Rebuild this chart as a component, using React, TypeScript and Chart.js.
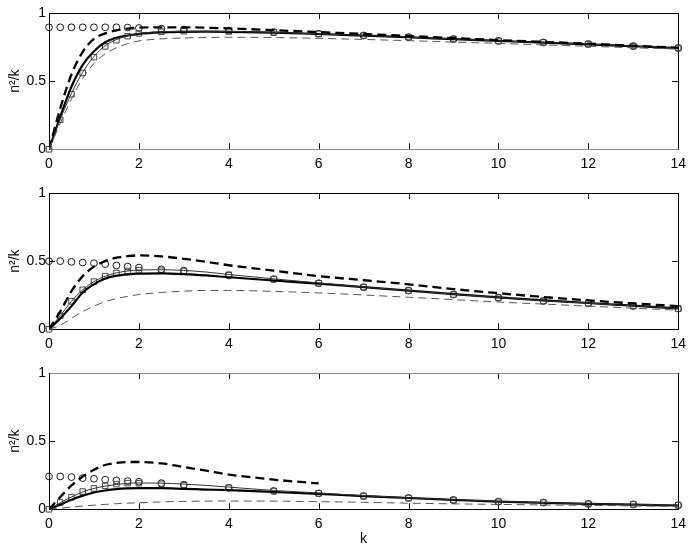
import React, { useEffect, useRef } from "react";
import { Chart, registerables } from "chart.js";
Chart.register(...registerables);

// marker abscissae and curve abscissae
const K_MARK = [0, 0.25, 0.5, 0.75, 1, 1.25, 1.5, 1.75, 2, 2.5, 3, 4, 5, 6, 7, 8, 9, 10, 11, 12, 13, 14];
const K_LINE = [0, 0.25, 0.5, 0.75, 1, 1.25, 1.5, 1.75, 2, 2.5, 3, 3.5, 4, 5, 6, 7, 8, 9, 10, 11, 12, 13, 14];
const K_DASH3 = [0, 0.25, 0.5, 0.75, 1, 1.25, 1.5, 1.75, 2, 2.5, 3, 3.5, 4, 4.5, 5, 5.5, 6];

const X_TICKS = [0, 2, 4, 6, 8, 10, 12, 14];
const Y_TICKS = [0, 0.5, 1];
const Y_TITLE = "n²/k";
const X_TITLE = "k";

// panel 1
const circles1 = [0.895, 0.895, 0.895, 0.895, 0.895, 0.895, 0.895, 0.893, 0.89, 0.885, 0.878, 0.87, 0.86, 0.848, 0.835, 0.823, 0.809, 0.795, 0.784, 0.772, 0.757, 0.743];
const squares1 = [0, 0.216, 0.404, 0.56, 0.676, 0.755, 0.8, 0.83, 0.85, 0.862, 0.866, 0.865, 0.858, 0.847, 0.835, 0.823, 0.809, 0.795, 0.784, 0.772, 0.757, 0.743];
const thickSolid1 = [0, 0.24, 0.46, 0.62, 0.72, 0.785, 0.818, 0.835, 0.847, 0.858, 0.862, 0.863, 0.862, 0.856, 0.846, 0.834, 0.822, 0.808, 0.795, 0.783, 0.77, 0.756, 0.742];
const thinSolid1 = [0, 0.22, 0.41, 0.565, 0.68, 0.76, 0.805, 0.833, 0.85, 0.862, 0.866, 0.866, 0.865, 0.858, 0.847, 0.835, 0.823, 0.809, 0.795, 0.784, 0.772, 0.757, 0.743];
const thickDash1 = [0, 0.3, 0.55, 0.715, 0.81, 0.85, 0.872, 0.885, 0.892, 0.895, 0.895, 0.892, 0.887, 0.874, 0.86, 0.846, 0.831, 0.816, 0.801, 0.788, 0.775, 0.76, 0.745];
const thinDash1 = [0, 0.19, 0.37, 0.52, 0.63, 0.7, 0.745, 0.775, 0.795, 0.81, 0.817, 0.82, 0.822, 0.82, 0.814, 0.806, 0.797, 0.787, 0.777, 0.766, 0.756, 0.745, 0.735];

// panel 2
const circles2 = [0.5, 0.5, 0.495, 0.49, 0.485, 0.478, 0.468, 0.46, 0.453, 0.44, 0.43, 0.395, 0.368, 0.338, 0.309, 0.284, 0.255, 0.232, 0.208, 0.191, 0.171, 0.151];
const squares2 = [0, 0.1, 0.206, 0.29, 0.35, 0.39, 0.413, 0.428, 0.433, 0.43, 0.428, 0.4, 0.368, 0.338, 0.309, 0.284, 0.255, 0.232, 0.208, 0.191, 0.171, 0.151];
const thickSolid2 = [0, 0.08, 0.17, 0.27, 0.33, 0.373, 0.393, 0.403, 0.408, 0.41, 0.405, 0.395, 0.382, 0.358, 0.335, 0.309, 0.284, 0.258, 0.234, 0.212, 0.193, 0.173, 0.153];
const thinSolid2 = [0, 0.1, 0.205, 0.29, 0.35, 0.39, 0.414, 0.428, 0.435, 0.437, 0.432, 0.42, 0.402, 0.37, 0.34, 0.31, 0.285, 0.257, 0.233, 0.21, 0.192, 0.172, 0.152];
const thickDash2 = [0, 0.13, 0.28, 0.39, 0.46, 0.5, 0.525, 0.537, 0.542, 0.535, 0.517, 0.495, 0.47, 0.43, 0.39, 0.36, 0.33, 0.295, 0.265, 0.237, 0.212, 0.19, 0.17];
const thinDash2 = [0, 0.03, 0.08, 0.13, 0.17, 0.203, 0.225, 0.242, 0.255, 0.27, 0.28, 0.285, 0.285, 0.278, 0.267, 0.252, 0.235, 0.218, 0.2, 0.185, 0.17, 0.155, 0.14];

// panel 3
const circles3 = [0.241, 0.241, 0.236, 0.229, 0.224, 0.217, 0.212, 0.207, 0.202, 0.192, 0.18, 0.158, 0.134, 0.117, 0.097, 0.083, 0.068, 0.056, 0.049, 0.04, 0.036, 0.03];
const squares3 = [0, 0.05, 0.089, 0.13, 0.153, 0.172, 0.185, 0.192, 0.192, 0.187, 0.177, 0.158, 0.134, 0.117, 0.097, 0.083, 0.068, 0.056, 0.049, 0.04, 0.036, 0.03];
const thickSolid3 = [0, 0.035, 0.07, 0.1, 0.123, 0.138, 0.148, 0.153, 0.155, 0.155, 0.15, 0.145, 0.14, 0.127, 0.113, 0.097, 0.083, 0.069, 0.057, 0.048, 0.04, 0.034, 0.028];
const thinSolid3 = [0, 0.048, 0.09, 0.128, 0.153, 0.17, 0.182, 0.19, 0.193, 0.192, 0.185, 0.175, 0.163, 0.138, 0.12, 0.1, 0.085, 0.07, 0.058, 0.049, 0.041, 0.035, 0.03];
const thickDash3 = [0, 0.09, 0.175, 0.24, 0.29, 0.325, 0.34, 0.347, 0.347, 0.337, 0.31, 0.283, 0.255, 0.235, 0.218, 0.203, 0.19];
const thinDash3 = [0, 0.008, 0.016, 0.024, 0.03, 0.036, 0.041, 0.045, 0.048, 0.054, 0.058, 0.06, 0.061, 0.06, 0.056, 0.051, 0.045, 0.04, 0.036, 0.032, 0.029, 0.025, 0.022];

const FONT = "'Liberation Sans', Arial, Helvetica, sans-serif";
const FONT_SIZE = 14;

function pts(xs: number[], ys: number[]) {
  return ys.map((y, i) => ({ x: xs[i], y }));
}

const framePlugin = {
  id: "frame",
  beforeDatasetsDraw(chart: any, _args: any, opts: any) {
    const { ctx, chartArea } = chart;
    const { left, right, top, bottom } = chartArea;
    const xs = chart.scales.x;
    const ys = chart.scales.y;
    ctx.save();
    ctx.lineWidth = 1;
    ctx.strokeStyle = "#000";
    ctx.beginPath();
    X_TICKS.forEach((v) => {
      const px = Math.round(xs.getPixelForValue(v)) + 0.5;
      ctx.moveTo(px, bottom);
      ctx.lineTo(px, bottom - 6);
      ctx.moveTo(px, top);
      ctx.lineTo(px, top + 6);
    });
    Y_TICKS.forEach((v) => {
      const py = Math.round(ys.getPixelForValue(v)) + 0.5;
      ctx.moveTo(left, py);
      ctx.lineTo(left + 6, py);
      ctx.moveTo(right, py);
      ctx.lineTo(right - 6, py);
    });
    ctx.stroke();
    const L = Math.round(left) + 0.5;
    const R = Math.round(right) + 0.5;
    const T = Math.round(top) + 0.5;
    const B = Math.round(bottom) + 0.5;
    const side = (x1: number, y1: number, x2: number, y2: number, c: string) => {
      ctx.strokeStyle = c;
      ctx.beginPath();
      ctx.moveTo(x1, y1);
      ctx.lineTo(x2, y2);
      ctx.stroke();
    };
    side(L, T, R, T, opts.topColor || "#000");
    side(L, B, R, B, opts.bottomColor || "#000");
    side(L, T, L, B, "#000");
    side(R, T, R, B, "#000");
    ctx.restore();
  },
};

function makeConfig(
  d: {
    circles: number[];
    squares: number[];
    thickSolid: number[];
    thinSolid: number[];
    thickDash: number[];
    thickDashK: number[];
    thinDash: number[];
  },
  xHeight: number,
  showXTitle: boolean,
  topColor: string,
  bottomColor: string
): any {
  const lineBase = { showLine: true, pointRadius: 0, cubicInterpolationMode: "monotone", fill: false };
  return {
    type: "scatter",
    data: {
      datasets: [
        { ...lineBase, data: pts(K_LINE, d.thinDash), borderColor: "#555", borderWidth: 1, borderDash: [8, 5] },
        { ...lineBase, data: pts(d.thickDashK, d.thickDash), borderColor: "#000", borderWidth: 2.3, borderDash: [9, 5] },
        { ...lineBase, data: pts(K_LINE, d.thinSolid), borderColor: "#333", borderWidth: 1 },
        { ...lineBase, data: pts(K_LINE, d.thickSolid), borderColor: "#000", borderWidth: 2.2 },
        {
          data: pts(K_MARK, d.squares),
          showLine: false,
          pointStyle: "rect",
          pointRadius: 3.9,
          pointBorderColor: "#444",
          pointBackgroundColor: "rgba(0,0,0,0)",
          pointBorderWidth: 1,
          clip: false,
        },
        {
          data: pts(K_MARK, d.circles),
          showLine: false,
          pointStyle: "circle",
          pointRadius: 3.4,
          pointBorderColor: "#000",
          pointBackgroundColor: "rgba(0,0,0,0)",
          pointBorderWidth: 0.9,
          clip: false,
        },
      ],
    },
    options: {
      animation: false,
      responsive: false,
      events: [],
      layout: { padding: { top: 13, right: 13, left: 0, bottom: 0 } },
      plugins: {
        legend: { display: false },
        tooltip: { enabled: false },
        frame: { topColor, bottomColor },
      },
      scales: {
        x: {
          type: "linear",
          min: 0,
          max: 14,
          afterFit: (s: any) => {
            s.height = xHeight;
          },
          afterBuildTicks: (s: any) => {
            s.ticks = X_TICKS.map((v) => ({ value: v }));
          },
          grid: { display: false, drawTicks: false },
          border: { display: false },
          ticks: {
            color: "#000",
            font: { family: FONT, size: FONT_SIZE },
            padding: 6,
            maxRotation: 0,
            callback: (v: any) => String(v),
          },
          title: {
            display: showXTitle,
            text: X_TITLE,
            color: "#000",
            font: { family: FONT, size: FONT_SIZE },
            padding: { top: 0, bottom: 0 },
          },
        },
        y: {
          type: "linear",
          min: 0,
          max: 1,
          afterFit: (s: any) => {
            s.width = 49;
          },
          afterBuildTicks: (s: any) => {
            s.ticks = Y_TICKS.map((v) => ({ value: v }));
          },
          grid: { display: false, drawTicks: false },
          border: { display: false },
          ticks: {
            color: "#000",
            font: { family: FONT, size: FONT_SIZE },
            padding: 3,
            callback: (v: any) => String(v),
          },
          title: {
            display: true,
            text: Y_TITLE,
            color: "#000",
            font: { family: FONT, size: FONT_SIZE },
            padding: { top: 7, bottom: 0 },
          },
        },
      },
    },
    plugins: [framePlugin],
  };
}

export default function App() {
  const r1 = useRef<HTMLCanvasElement>(null);
  const r2 = useRef<HTMLCanvasElement>(null);
  const r3 = useRef<HTMLCanvasElement>(null);

  useEffect(() => {
    const c1 = new Chart(
      r1.current as HTMLCanvasElement,
      makeConfig(
        { circles: circles1, squares: squares1, thickSolid: thickSolid1, thinSolid: thinSolid1, thickDash: thickDash1, thickDashK: K_LINE, thinDash: thinDash1 },
        30.7,
        false,
        "#000",
        "#888"
      )
    );
    const c2 = new Chart(
      r2.current as HTMLCanvasElement,
      makeConfig(
        { circles: circles2, squares: squares2, thickSolid: thickSolid2, thinSolid: thinSolid2, thickDash: thickDash2, thickDashK: K_LINE, thinDash: thinDash2 },
        30.7,
        false,
        "#000",
        "#000"
      )
    );
    const c3 = new Chart(
      r3.current as HTMLCanvasElement,
      makeConfig(
        { circles: circles3, squares: squares3, thickSolid: thickSolid3, thinSolid: thinSolid3, thickDash: thickDash3, thickDashK: K_DASH3, thinDash: thinDash3 },
        38.7,
        true,
        "#888",
        "#000"
      )
    );
    return () => {
      c1.destroy();
      c2.destroy();
      c3.destroy();
    };
  }, []);

  const cs: React.CSSProperties = { position: "absolute", left: 0, display: "block" };
  return (
    <div style={{ position: "absolute", left: 0, top: 0, width: 692, height: 548, background: "#fff" }}>
      <canvas ref={r1} width={692} height={180} style={{ ...cs, top: 0, width: 692, height: 180 }} />
      <canvas ref={r2} width={692} height={180} style={{ ...cs, top: 180, width: 692, height: 180 }} />
      <canvas ref={r3} width={692} height={188} style={{ ...cs, top: 360, width: 692, height: 188 }} />
    </div>
  );
}
